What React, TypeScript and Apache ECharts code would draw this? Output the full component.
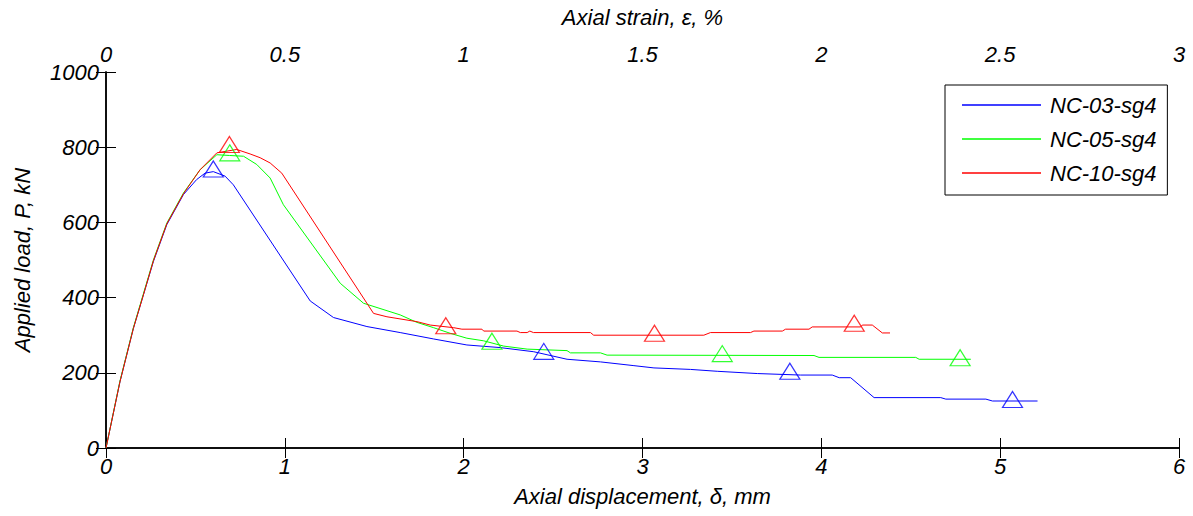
import React, { useEffect, useRef } from "react";
import * as echarts from "echarts";

const seriesNames = ["NC-03-sg4", "NC-05-sg4", "NC-10-sg4"];
const seriesColors = ["#0000ff", "#00ff00", "#ff0000"];

// Axial displacement (mm), applied load (kN)
const nc03Curve: [number, number][] = [
  [0, 0], [0.078, 176], [0.153, 318], [0.209, 407], [0.265, 496], [0.34, 594],
  [0.433, 674], [0.507, 714], [0.554, 731], [0.6, 735], [0.666, 723], [0.712, 700],
  [1.142, 391], [1.272, 347], [1.459, 323], [1.645, 307], [1.832, 290], [2.018, 274],
  [2.205, 267], [2.392, 256], [2.578, 236], [2.765, 229], [2.952, 219], [3.064, 213],
  [3.268, 209], [3.418, 204], [3.642, 198], [3.884, 194], [4.061, 194], [4.1, 187],
  [4.164, 187], [4.295, 134], [4.668, 134], [4.696, 130], [4.92, 130], [4.957, 125],
  [5.209, 125],
];
const nc05Curve: [number, number][] = [
  [0, 0], [0.078, 178], [0.153, 320], [0.209, 410], [0.265, 500], [0.34, 598],
  [0.433, 678], [0.526, 740], [0.62, 780], [0.69, 778], [0.769, 776], [0.843, 754],
  [0.918, 718], [0.992, 647], [1.31, 438], [1.44, 385], [1.645, 354], [1.739, 334],
  [1.832, 320], [1.925, 305], [2.018, 292], [2.112, 285], [2.224, 271], [2.355, 263],
  [2.578, 259], [2.597, 253], [2.765, 253], [2.802, 247], [3.959, 246], [3.987, 241],
  [4.528, 241], [4.547, 236], [4.836, 236],
];
const nc10Curve: [number, number][] = [
  [0, 0], [0.078, 176], [0.153, 318], [0.209, 407], [0.265, 498], [0.34, 596],
  [0.433, 676], [0.526, 740], [0.62, 785], [0.731, 794], [0.806, 782], [0.862, 772],
  [0.918, 758], [0.983, 731], [1.496, 358], [1.571, 349], [1.739, 336], [1.813, 327],
  [1.944, 320], [1.99, 316], [2.102, 316], [2.112, 311], [2.298, 311], [2.317, 307],
  [2.355, 307], [2.37, 311], [2.39, 307], [2.709, 307], [2.727, 300], [3.343, 300],
  [3.38, 307], [3.604, 307], [3.623, 311], [3.782, 311], [3.8, 316], [3.931, 316],
  [3.949, 322], [4.22, 322], [4.229, 327], [4.285, 327], [4.341, 306], [4.384, 306],
];

const nc03Markers: [number, number][] = [[0.6, 742], [2.448, 257], [3.824, 204], [5.069, 129]];
const nc05Markers: [number, number][] = [[0.692, 785], [2.158, 284], [3.446, 251], [4.776, 240]];
const nc10Markers: [number, number][] = [[0.69, 807], [1.9, 325], [3.067, 305], [4.184, 332]];

const curves = [nc03Curve, nc05Curve, nc10Curve];
const markers = [nc03Markers, nc05Markers, nc10Markers];

const FONT = "'Liberation Sans', Arial, sans-serif";

export default function App() {
  const ref = useRef<HTMLDivElement>(null);
  useEffect(() => {
    if (!ref.current) return;
    const chart = echarts.init(ref.current, undefined, { renderer: "svg" });
    const labelStyle = {
      color: "#000",
      fontSize: 22,
      fontStyle: "italic" as const,
      fontFamily: FONT,
    };
    const axisCommon = {
      axisLine: { show: true, lineStyle: { color: "#000", width: 1.5 } },
      axisTick: { show: true, inside: true, length: 10, lineStyle: { color: "#000", width: 1 } },
      splitLine: { show: false },
    };
    const plainNumber = (v: number) => String(v);
    const lineSeries = seriesNames.map((name, i) => ({
      name,
      type: "line",
      data: curves[i],
      xAxisIndex: 0,
      yAxisIndex: 0,
      symbol: "none",
      lineStyle: { color: seriesColors[i], width: 1 },
      itemStyle: { color: seriesColors[i] },
      z: 2,
    }));
    const markerSeries = seriesNames.map((name, i) => ({
      name: name + " markers",
      type: "scatter",
      data: markers[i],
      xAxisIndex: 0,
      yAxisIndex: 0,
      symbol: "triangle",
      symbolSize: [20, 16],
      itemStyle: { color: "rgba(0,0,0,0)", borderColor: seriesColors[i], borderWidth: 1.2 },
      z: 3,
    }));
    chart.setOption({
      animation: false,
      backgroundColor: "#fff",
      grid: { left: 106, top: 72, width: 1073, height: 376, containLabel: false },
      legend: {
        data: seriesNames.map((name) => ({ name, icon: "rect" })),
        orient: "vertical",
        left: 945,
        top: 85,
        padding: [8, 11, 10, 17],
        itemWidth: 79,
        itemHeight: 1.5,
        itemGap: 10,
        backgroundColor: "#fff",
        borderColor: "#000",
        borderWidth: 1,
        borderRadius: 0,
        textStyle: { ...labelStyle, lineHeight: 24, padding: [0, 0, 0, 4] },
      },
      xAxis: [
        {
          type: "value",
          position: "bottom",
          min: 0,
          max: 6,
          interval: 1,
          name: "Axial displacement, δ, mm",
          nameLocation: "middle",
          nameGap: 37,
          nameTextStyle: labelStyle,
          axisLabel: { ...labelStyle, margin: 7, formatter: plainNumber },
          ...axisCommon,
        },
        {
          type: "value",
          position: "top",
          min: 0,
          max: 3,
          interval: 0.5,
          name: "Axial strain, ε, %",
          nameLocation: "middle",
          nameGap: 44,
          nameTextStyle: labelStyle,
          axisLabel: { ...labelStyle, margin: 7, formatter: plainNumber },
          ...axisCommon,
        },
      ],
      yAxis: [
        {
          type: "value",
          position: "left",
          min: 0,
          max: 1000,
          interval: 200,
          name: "Applied load, P, kN",
          nameLocation: "middle",
          nameGap: 73,
          nameTextStyle: labelStyle,
          axisLabel: { ...labelStyle, margin: 7, formatter: plainNumber },
          ...axisCommon,
        },
        {
          type: "value",
          position: "right",
          min: 0,
          max: 1000,
          interval: 200,
          axisLabel: { show: false },
          ...axisCommon,
        },
      ],
      series: [...lineSeries, ...markerSeries],
    });
    return () => chart.dispose();
  }, []);
  return (
    <div
      ref={ref}
      style={{ position: "fixed", left: 0, top: 0, width: 1193, height: 516, background: "#fff" }}
    />
  );
}
